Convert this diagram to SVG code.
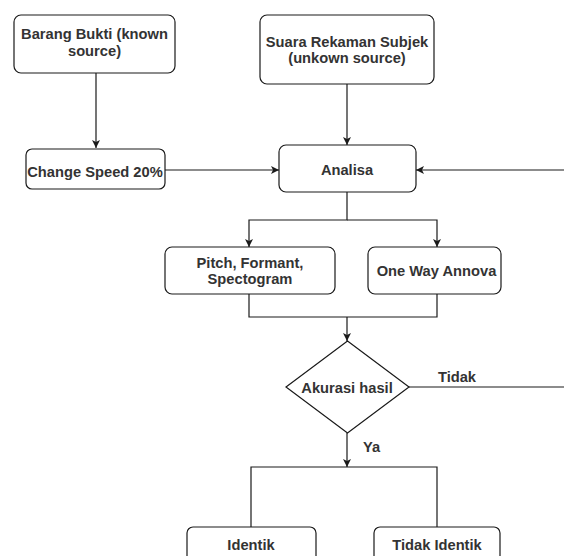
<svg xmlns="http://www.w3.org/2000/svg" width="564" height="556" viewBox="0 0 564 556">
<style>
.box{fill:#fff;stroke:#1a1a1a;stroke-width:1.2}
.t{font-family:"Liberation Sans",Arial,sans-serif;font-size:14.7px;font-weight:bold;fill:#333;text-anchor:middle}
.c{fill:none;stroke:#1a1a1a;stroke-width:1.2}
</style>
<defs>
<marker id="ah" markerWidth="10" markerHeight="10" refX="8" refY="5" orient="auto" markerUnits="userSpaceOnUse">
<path d="M0,1 L8,5 L0,9 L2,5 Z" fill="#1a1a1a"/>
</marker>
</defs>
<rect width="564" height="556" fill="#fff"/>
<g id="connectors">
<path class="c" d="M96,73 V148" marker-end="url(#ah)"/>
<path class="c" d="M347,84 V145" marker-end="url(#ah)"/>
<path class="c" d="M165,170 H279" marker-end="url(#ah)"/>
<path class="c" d="M564,170 H416" marker-end="url(#ah)"/>
<path class="c" d="M347,192 V220 H249 V247" marker-end="url(#ah)"/>
<path class="c" d="M347,220 H437 V247" marker-end="url(#ah)"/>
<path class="c" d="M249,294 V317 H437 V294"/>
<path class="c" d="M347,317 V341" marker-end="url(#ah)"/>
<path class="c" d="M409,387 H564"/>
<text class="t" x="457" y="382">Tidak</text>
<path class="c" d="M347,433 V467" marker-end="url(#ah)"/>
<text class="t" x="371.5" y="452">Ya</text>
<path class="c" d="M251,527 V467 H437 V527"/>
</g>
<g id="barang">
<rect class="box" x="14" y="15" width="161" height="58" rx="7"/>
<text class="t" x="94.5" y="39">Barang Bukti  (known</text>
<text class="t" x="94.5" y="55.5">source)</text>
</g>
<g id="suara">
<rect class="box" x="260" y="15" width="174" height="69" rx="7"/>
<text class="t" x="347" y="46.5">Suara Rekaman Subjek</text>
<text class="t" x="347" y="62.5">(unkown source)</text>
</g>
<g id="change">
<rect class="box" x="26" y="149" width="139" height="40" rx="6"/>
<text class="t" x="95" y="177">Change Speed 20%</text>
</g>
<g id="analisa">
<rect class="box" x="279" y="145" width="137" height="47" rx="7"/>
<text class="t" x="347" y="175">Analisa</text>
</g>
<g id="pitch">
<rect class="box" x="165" y="247" width="170" height="47" rx="7"/>
<text class="t" x="250" y="268">Pitch, Formant,</text>
<text class="t" x="250" y="284">Spectogram</text>
</g>
<g id="oneway">
<rect class="box" x="368" y="247" width="133" height="47" rx="7"/>
<text class="t" x="436.5" y="276">One Way Annova</text>
</g>
<g id="akurasi">
<path class="box" d="M347.5,341 L409,387 L347.5,433 L286,387 Z"/>
<text class="t" x="347" y="392.5">Akurasi hasil</text>
</g>
<g id="identik">
<rect class="box" x="187" y="527" width="129" height="45" rx="6"/>
<text class="t" x="251" y="550">Identik</text>
</g>
<g id="tidakidentik">
<rect class="box" x="374" y="527" width="126" height="45" rx="6"/>
<text class="t" x="437" y="550">Tidak Identik</text>
</g>
</svg>
